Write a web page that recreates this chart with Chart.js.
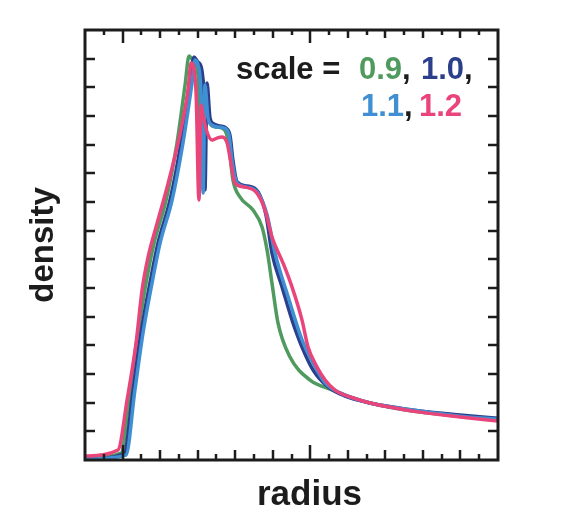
<!DOCTYPE html>
<html><head><meta charset="utf-8">
<script src="https://cdn.jsdelivr.net/npm/chart.js@4/dist/chart.umd.min.js"></script>
<style>html,body{margin:0;padding:0;background:#fff}canvas{display:block}</style>
</head><body>
<canvas id="c" width="570" height="521"></canvas>
<script>
// ---- data (radius in axis units 0..22, density in axis units 0..15) ----
const seriesLabels = ['0.9', '1.0', '1.1', '1.2'];
const seriesColors = ['#4f9a5e', '#2b3f8c', '#3f8fd2', '#e9457b'];
const xAxisTitle = 'radius';
const yAxisTitle = 'density';

const radius09  = [0,1.92,2.40,2.82,3.25,3.68,4.32,4.90,5.33,5.54,5.75,6.02,6.20,6.29,6.45,6.66,6.98,7.30,7.62,7.88,8.26,8.95,9.43,9.70,9.96,10.28,10.92,11.99,13.21,14.12,15.18,17.85,19.98,22.0];
const density09 = [0.07,0.24,2.44,4.43,6.17,7.57,9.07,11.06,13.08,14.09,13.95,13.43,9.6,13.25,12.21,11.75,11.61,11.58,11.16,9.77,9.17,8.72,8.13,7.32,6.17,4.78,3.59,2.79,2.44,2.20,1.99,1.67,1.53,1.40];

const radius10  = [0,2.08,2.56,2.98,3.46,3.89,4.53,5.11,5.59,5.81,6.02,6.29,6.39,6.50,6.66,6.87,7.19,7.51,7.73,7.88,8.10,8.63,9.22,9.64,9.96,10.50,11.03,11.56,12.15,12.95,13.85,15.18,17.85,19.98,22.0];
const density10 = [0.03,0.21,2.44,4.43,6.17,7.57,9.07,11.06,13.25,14.06,13.88,13.25,9.42,13.15,11.93,11.72,11.65,11.58,11.30,10.46,9.70,9.56,9.35,8.55,7.22,6.03,4.88,3.94,3.14,2.55,2.23,1.99,1.71,1.57,1.46];

const radius11  = [0,2.18,2.66,3.09,3.57,4.00,4.64,5.22,5.70,5.86,6.02,6.18,6.29,6.39,6.55,6.77,7.09,7.41,7.67,7.83,8.10,8.63,9.22,9.70,10.12,10.82,11.56,12.15,12.79,13.59,15.18,17.85,19.98,22.0];
const density11 = [0.03,0.17,2.44,4.43,6.17,7.57,9.07,11.06,13.15,13.95,13.78,12.73,9.31,13.08,11.93,11.68,11.61,11.58,11.34,10.46,9.66,9.52,9.31,8.55,7.22,5.69,4.19,3.38,2.69,2.34,1.99,1.71,1.53,1.43];

const radius12  = [0,1.76,2.24,2.72,3.04,3.36,3.83,4.42,5.06,5.49,5.65,5.91,6.07,6.18,6.29,6.50,6.77,7.03,7.30,7.57,7.73,7.99,8.52,9.16,9.59,9.96,10.55,11.03,11.56,11.88,12.36,12.79,13.32,14.12,15.18,17.85,19.98,22.0];
const density12 = [0.14,0.35,2.09,4.08,5.93,7.08,8.23,9.63,11.37,12.91,13.85,12.91,9.07,12.38,12.03,11.44,11.16,11.23,11.27,11.06,10.53,9.66,9.52,9.31,8.72,7.78,6.87,6.03,4.88,3.94,3.24,2.79,2.44,2.20,1.99,1.67,1.50,1.36];

const radiusSeries  = [radius09, radius10, radius11, radius12];
const densitySeries = [density09, density10, density11, density12];

const xMin = 0, xMax = 22, yMin = 0, yMax = 15;
const xTickValues = Array.from({length: 21}, (_, i) => i + 1);
const yTickValues = Array.from({length: 14}, (_, i) => i + 1);

const FONT = '"Liberation Sans", Arial, Helvetica, sans-serif';
const INK = '#1c1c1c';

const datasets = seriesLabels.map((lab, k) => ({
  label: lab,
  data: radiusSeries[k].map((x, i) => ({x: x, y: densitySeries[k][i]})),
  borderColor: seriesColors[k],
  backgroundColor: seriesColors[k],
  borderWidth: 3.5,
  pointRadius: 0,
  cubicInterpolationMode: 'monotone',
  fill: false,
  order: 3 - k
}));

const framePlugin = {
  id: 'frame',
  afterDatasetsDraw(chart) {
    const {ctx, chartArea: a, scales: {x, y}} = chart;
    ctx.save();
    ctx.strokeStyle = INK;
    ctx.lineWidth = 3;
    ctx.lineCap = 'butt';
    ctx.strokeRect(a.left, a.top, a.right - a.left, a.bottom - a.top);
    ctx.lineWidth = 2.5;
    ctx.beginPath();
    xTickValues.forEach(v => {
      const px = Math.round(x.getPixelForValue(v));
      const major = (v % 10 === 2);
      const even = (v % 2 === 0);
      const lb = major ? 15 : even ? 10 : 6;
      const lt = major ? 13 : even ? 8 : 5;
      ctx.moveTo(px, a.bottom); ctx.lineTo(px, a.bottom - lb);
      ctx.moveTo(px, a.top); ctx.lineTo(px, a.top + lt);
    });
    yTickValues.forEach(v => {
      const py = Math.round(y.getPixelForValue(v));
      ctx.moveTo(a.left, py); ctx.lineTo(a.left + 10, py);
      ctx.moveTo(a.right, py); ctx.lineTo(a.right - 10, py);
    });
    ctx.stroke();
    ctx.restore();
  },
  afterDraw(chart) {
    const ctx = chart.ctx;
    ctx.save();
    ctx.textBaseline = 'alphabetic';
    ctx.textAlign = 'left';
    // x-axis title
    ctx.font = 'bold 35px ' + FONT;
    ctx.fillStyle = INK;
    ctx.fillText(xAxisTitle, 257, 505);
    // scale key
    ctx.font = 'bold 31px ' + FONT;
    const put = (t, c, px, py) => { ctx.fillStyle = c; ctx.fillText(t, px, py); return px + ctx.measureText(t).width; };
    let e;
    put('scale =', INK, 236, 79);
    e = put(seriesLabels[0], seriesColors[0], 359, 79);
    put(',', INK, e, 79);
    e = put(seriesLabels[1], seriesColors[1], 421, 79);
    put(',', INK, e, 79);
    e = put(seriesLabels[2], seriesColors[2], 361, 116);
    put(',', INK, e, 116);
    put(seriesLabels[3], seriesColors[3], 419, 116);
    ctx.restore();
  }
};

new Chart(document.getElementById('c'), {
  type: 'line',
  data: {datasets: datasets},
  options: {
    responsive: false,
    animation: false,
    devicePixelRatio: 1,
    layout: {padding: {left: 0, right: 72, top: 30, bottom: 0}},
    plugins: {legend: {display: false}, tooltip: {enabled: false}},
    scales: {
      x: {
        type: 'linear', min: xMin, max: xMax,
        ticks: {display: false},
        grid: {display: false, drawTicks: false},
        border: {display: false},
        title: {display: false},
        afterFit(s) { s.height = 61; }
      },
      y: {
        type: 'linear', min: yMin, max: yMax,
        ticks: {display: false},
        grid: {display: false, drawTicks: false},
        border: {display: false},
        title: {display: true, text: yAxisTitle, color: INK,
                font: {family: FONT, size: 33, weight: 'bold'}, padding: {top: 24, bottom: 0}},
        afterFit(s) { s.width = 85; }
      }
    }
  },
  plugins: [framePlugin]
});
</script>
</body></html>
